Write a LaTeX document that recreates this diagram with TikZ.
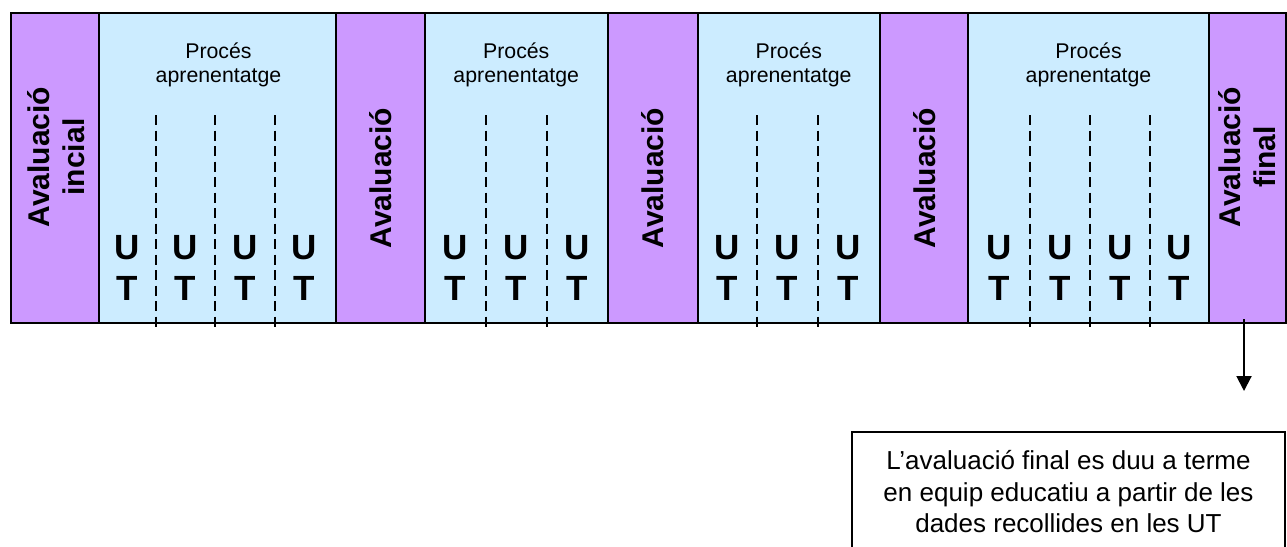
\documentclass[tikz,border=0pt]{standalone}
\usepackage{fontspec}
\setmainfont{Liberation Sans}
\usetikzlibrary{arrows.meta,calc}
\definecolor{evalpurple}{RGB}{204,153,255}
\definecolor{procblue}{RGB}{204,236,255}
\begin{document}
\begin{tikzpicture}[x=1pt,y=-1pt,
  cell/.style={draw=black, line width=2pt, inner sep=0pt, outer sep=0pt,
    anchor=north west, minimum height=310pt},
  evalcell/.style={cell, fill=evalpurple},
  proccell/.style={cell, fill=procblue},
  evaltext/.style={rotate=90, align=center, inner sep=0pt,
    font=\fontsize{30}{35}\selectfont\bfseries},
  proctext/.style={align=center, inner sep=0pt,
    font=\fontsize{21.3}{24}\selectfont},
  uttext/.style={align=center, inner sep=0pt,
    font=\fontsize{35}{40.5}\selectfont\bfseries},
  divider/.style={line width=2.3pt, dash pattern=on 10pt off 5.5pt},
  notebox/.style={draw=black, line width=2pt, inner sep=0pt, outer sep=0pt,
    anchor=north west},
  notetext/.style={align=center, inner sep=0pt,
    font=\fontsize{26}{31.5}\selectfont},
]
\useasboundingbox (0,0) rectangle (1287,546);

% timeline cells: evaluation (purple) and learning process (blue)
\node[evalcell, minimum width=88pt]    (e1) at (11,13)    {};
\node[proccell, minimum width=236.5pt] (p1) at (99,13)    {};
\node[evalcell, minimum width=89.5pt]  (e2) at (335.5,13) {};
\node[proccell, minimum width=182.5pt] (p2) at (425,13)   {};
\node[evalcell, minimum width=90.5pt]  (e3) at (607.5,13) {};
\node[proccell, minimum width=181.5pt] (p3) at (698,13)   {};
\node[evalcell, minimum width=88.5pt]  (e4) at (879.5,13) {};
\node[proccell, minimum width=241pt]   (p4) at (968,13)   {};
\node[evalcell, minimum width=77pt]    (e5) at (1209,13)  {};

% dashed separators between teaching units
\foreach \x in {156,215,275, 486,547, 757,818, 1030,1090,1150}
  \draw[divider] (\x,115) -- (\x,327);

% evaluation labels
\node[evaltext] (t1) at (56,157)     {Avaluació\\incial};
\node[evaltext] (t2) at (380.25,178) {Avaluació};
\node[evaltext] (t3) at (652.75,178) {Avaluació};
\node[evaltext] (t4) at (924.25,178) {Avaluació};
\node[evaltext] (t5) at (1247,157)   {Avaluació\\final};

% learning process headings
\node[proctext] (h1) at (218.5,65) {Procés\\aprenentatge};
\node[proctext] (h2) at (516.25,65) {Procés\\aprenentatge};
\node[proctext] (h3) at (788.75,65) {Procés\\aprenentatge};
\node[proctext] (h4) at (1088.5,65) {Procés\\aprenentatge};

% teaching units
\foreach \x [count=\i] in {127.5,185.5,245,304, 455.5,516.5,577.25,
    727.5,787.5,848.25, 999,1060,1120,1179.5}
  \node[uttext] (ut\i) at (\x,268) {U\\T};

% final note
\node[notebox, minimum width=433pt, minimum height=150pt] (note) at (852,432) {};
\node[notetext] (notetxt) at (1068.5,492)
  {L’avaluació final es duu a terme\\en equip educatiu a partir de les\\dades recollides en les UT};

\coordinate (arrowend) at (1244,391);
\draw[line width=2pt, -{Triangle[length=15pt,width=15pt]}]
  ($(e5.south)+(-3.5,-4)$) -- (arrowend);
\end{tikzpicture}
\end{document}
